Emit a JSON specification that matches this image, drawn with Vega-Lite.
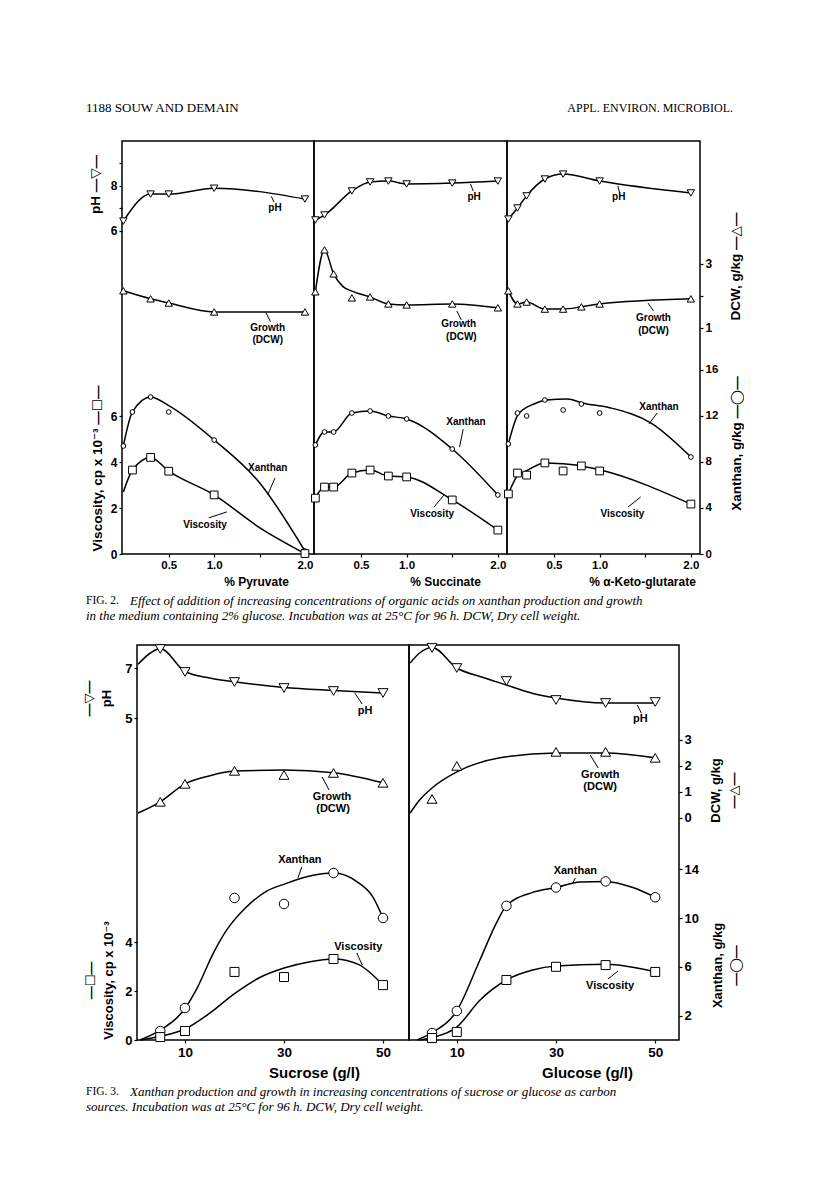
{
  "$schema": "https://vega.github.io/schema/vega-lite/v6.json",
  "background": "white",
  "padding": {"left": 0, "top": 98, "right": 0, "bottom": 0},
  "spacing": 0,
  "config": {
    "view": {"stroke": null},
    "concat": {"spacing": 0},
    "axis": {"grid": false, "domain": false, "tickColor": "black", "tickSize": 3, "tickWidth": 1.2, "labelColor": "black", "labelFont": "Liberation Sans", "labelFontWeight": "bold", "labelFontSize": 12, "labelPadding": 2, "labelFlush": false, "labelBound": false, "titleColor": "black", "titleFont": "Liberation Sans, DejaVu Sans", "titleFontWeight": "bold", "titleFontSize": 12, "titleAlign": "center", "titleBaseline": "middle"},
    "line": {"color": "black", "strokeWidth": 1.5, "interpolate": "monotone"},
    "point": {"filled": true, "fill": "white", "stroke": "black", "strokeWidth": 1, "opacity": 1},
    "text": {"color": "black", "font": "Liberation Sans", "fontWeight": "bold"},
    "rule": {"color": "black", "strokeWidth": 1}
  },
  "datasets": {
    "hdr": [
      {"pos": 0, "t": "1188   SOUW AND DEMAIN"},
      {"pos": 1, "t": "APPL. ENVIRON. MICROBIOL."}
    ],
    "cap2": [
      {"pos": 0, "line": 1, "k": "fig", "t": "FIG. 2."},
      {"pos": 0, "line": 1, "k": "b1", "t": "Effect of addition of increasing concentrations of organic acids on xanthan production and growth"},
      {"pos": 0, "line": 2, "k": "b2", "t": "in the medium containing 2% glucose. Incubation was at 25°C for 96 h. DCW, Dry cell weight."}
    ],
    "cap3": [
      {"pos": 0, "line": 1, "k": "fig", "t": "FIG. 3."},
      {"pos": 0, "line": 1, "k": "b1", "t": "Xanthan production and growth in increasing concentrations of sucrose or glucose as carbon"},
      {"pos": 0, "line": 2, "k": "b2", "t": "sources. Incubation was at 25°C for 96 h. DCW, Dry cell weight."}
    ],
    "f2": [
      {"p":"Pyr","s":"pH","x":0,"v":6.44,"r":"b"},
      {"p":"Pyr","s":"pH","x":0.3,"v":7.64,"r":"b"},
      {"p":"Pyr","s":"pH","x":0.5,"v":7.64,"r":"b"},
      {"p":"Pyr","s":"pH","x":1.0,"v":7.9,"r":"b"},
      {"p":"Pyr","s":"pH","x":2.0,"v":7.42,"r":"b"},
      {"p":"Pyr","s":"DCW","x":0,"v":2.16,"r":"b"},
      {"p":"Pyr","s":"DCW","x":0.3,"v":1.91,"r":"b"},
      {"p":"Pyr","s":"DCW","x":0.5,"v":1.78,"r":"b"},
      {"p":"Pyr","s":"DCW","x":1.0,"v":1.5,"r":"b"},
      {"p":"Pyr","s":"DCW","x":2.0,"v":1.5,"r":"b"},
      {"p":"Pyr","s":"Xan","x":0,"v":9.39,"r":"b"},
      {"p":"Pyr","s":"Xan","x":0.1,"v":12.35,"r":"b"},
      {"p":"Pyr","s":"Xan","x":0.3,"v":13.65,"r":"b"},
      {"p":"Pyr","s":"Xan","x":0.5,"v":12.35,"r":"p"},
      {"p":"Pyr","s":"Xan","x":0.5,"v":12.9,"r":"l"},
      {"p":"Pyr","s":"Xan","x":1.0,"v":9.91,"r":"b"},
      {"p":"Pyr","s":"Xan","x":1.5,"v":6.2,"r":"l"},
      {"p":"Pyr","s":"Xan","x":2.0,"v":0.26,"r":"b"},
      {"p":"Pyr","s":"Visc","x":0,"v":2.7,"r":"l"},
      {"p":"Pyr","s":"Visc","x":0.1,"v":3.65,"r":"b"},
      {"p":"Pyr","s":"Visc","x":0.3,"v":4.2,"r":"b"},
      {"p":"Pyr","s":"Visc","x":0.5,"v":3.6,"r":"b"},
      {"p":"Pyr","s":"Visc","x":1.0,"v":2.57,"r":"b"},
      {"p":"Pyr","s":"Visc","x":1.5,"v":1.15,"r":"l"},
      {"p":"Pyr","s":"Visc","x":2.0,"v":0.02,"r":"b"},
      {"p":"Pyr","s":"ann","x":1.67,"v":15.04,"t":"pH"},
      {"p":"Pyr","s":"ann","x":1.59,"v":9.83,"t":"Growth"},
      {"p":"Pyr","s":"ann","x":1.59,"v":9.3,"t":"(DCW)"},
      {"p":"Pyr","s":"ann","x":1.59,"v":3.74,"t":"Xanthan"},
      {"p":"Pyr","s":"ann","x":0.9,"v":1.26,"t":"Viscosity"},
      {"p":"Pyr","s":"lead","x":1.63,"v":15.55,"x2":1.66,"v2":15.3},
      {"p":"Pyr","s":"lead","x":1.57,"v":10.5,"x2":1.62,"v2":10.1},
      {"p":"Pyr","s":"lead","x":1.67,"v":3.3,"x2":1.59,"v2":2.57},
      {"p":"Pyr","s":"lead","x":0.94,"v":1.57,"x2":1.14,"v2":1.83},
      {"p":"Suc","s":"pH","x":0,"v":6.49,"r":"b"},
      {"p":"Suc","s":"pH","x":0.1,"v":6.71,"r":"b"},
      {"p":"Suc","s":"pH","x":0.4,"v":7.78,"r":"b"},
      {"p":"Suc","s":"pH","x":0.6,"v":8.18,"r":"b"},
      {"p":"Suc","s":"pH","x":0.8,"v":8.22,"r":"b"},
      {"p":"Suc","s":"pH","x":1.0,"v":8.09,"r":"b"},
      {"p":"Suc","s":"pH","x":1.5,"v":8.13,"r":"b"},
      {"p":"Suc","s":"pH","x":2.0,"v":8.22,"r":"b"},
      {"p":"Suc","s":"DCW","x":0,"v":2.13,"r":"b"},
      {"p":"Suc","s":"DCW","x":0.1,"v":3.44,"r":"b"},
      {"p":"Suc","s":"DCW","x":0.2,"v":2.69,"r":"b"},
      {"p":"Suc","s":"DCW","x":0.3,"v":2.3,"r":"l"},
      {"p":"Suc","s":"DCW","x":0.4,"v":1.94,"r":"p"},
      {"p":"Suc","s":"DCW","x":0.4,"v":2.15,"r":"l"},
      {"p":"Suc","s":"DCW","x":0.6,"v":1.97,"r":"b"},
      {"p":"Suc","s":"DCW","x":0.8,"v":1.75,"r":"b"},
      {"p":"Suc","s":"DCW","x":1.0,"v":1.72,"r":"b"},
      {"p":"Suc","s":"DCW","x":1.5,"v":1.75,"r":"b"},
      {"p":"Suc","s":"DCW","x":2.0,"v":1.63,"r":"b"},
      {"p":"Suc","s":"Xan","x":0,"v":9.48,"r":"b"},
      {"p":"Suc","s":"Xan","x":0.1,"v":10.61,"r":"b"},
      {"p":"Suc","s":"Xan","x":0.2,"v":10.61,"r":"b"},
      {"p":"Suc","s":"Xan","x":0.4,"v":12.26,"r":"b"},
      {"p":"Suc","s":"Xan","x":0.6,"v":12.43,"r":"b"},
      {"p":"Suc","s":"Xan","x":0.8,"v":12.0,"r":"b"},
      {"p":"Suc","s":"Xan","x":1.0,"v":11.74,"r":"b"},
      {"p":"Suc","s":"Xan","x":1.5,"v":9.13,"r":"b"},
      {"p":"Suc","s":"Xan","x":2.0,"v":5.13,"r":"b"},
      {"p":"Suc","s":"Visc","x":0,"v":2.43,"r":"b"},
      {"p":"Suc","s":"Visc","x":0.1,"v":2.91,"r":"b"},
      {"p":"Suc","s":"Visc","x":0.2,"v":2.91,"r":"b"},
      {"p":"Suc","s":"Visc","x":0.4,"v":3.52,"r":"b"},
      {"p":"Suc","s":"Visc","x":0.6,"v":3.65,"r":"b"},
      {"p":"Suc","s":"Visc","x":0.8,"v":3.39,"r":"b"},
      {"p":"Suc","s":"Visc","x":1.0,"v":3.35,"r":"b"},
      {"p":"Suc","s":"Visc","x":1.5,"v":2.35,"r":"b"},
      {"p":"Suc","s":"Visc","x":2.0,"v":1.04,"r":"b"},
      {"p":"Suc","s":"ann","x":1.74,"v":15.52,"t":"pH"},
      {"p":"Suc","s":"ann","x":1.57,"v":10.0,"t":"Growth"},
      {"p":"Suc","s":"ann","x":1.6,"v":9.43,"t":"(DCW)"},
      {"p":"Suc","s":"ann","x":1.65,"v":5.74,"t":"Xanthan"},
      {"p":"Suc","s":"ann","x":1.28,"v":1.74,"t":"Viscosity"},
      {"p":"Suc","s":"lead","x":1.7,"v":16.09,"x2":1.73,"v2":15.78},
      {"p":"Suc","s":"lead","x":1.55,"v":10.57,"x2":1.6,"v2":10.17},
      {"p":"Suc","s":"lead","x":1.62,"v":5.43,"x2":1.58,"v2":4.65},
      {"p":"Suc","s":"lead","x":1.3,"v":2.04,"x2":1.41,"v2":2.57},
      {"p":"Keto","s":"pH","x":0,"v":6.53,"r":"b"},
      {"p":"Keto","s":"pH","x":0.1,"v":7.02,"r":"b"},
      {"p":"Keto","s":"pH","x":0.2,"v":7.56,"r":"b"},
      {"p":"Keto","s":"pH","x":0.4,"v":8.31,"r":"b"},
      {"p":"Keto","s":"pH","x":0.6,"v":8.53,"r":"b"},
      {"p":"Keto","s":"pH","x":1.0,"v":8.22,"r":"b"},
      {"p":"Keto","s":"pH","x":2.0,"v":7.69,"r":"b"},
      {"p":"Keto","s":"DCW","x":0,"v":2.16,"r":"b"},
      {"p":"Keto","s":"DCW","x":0.1,"v":1.75,"r":"b"},
      {"p":"Keto","s":"DCW","x":0.2,"v":1.81,"r":"b"},
      {"p":"Keto","s":"DCW","x":0.4,"v":1.59,"r":"b"},
      {"p":"Keto","s":"DCW","x":0.6,"v":1.59,"r":"b"},
      {"p":"Keto","s":"DCW","x":0.8,"v":1.66,"r":"b"},
      {"p":"Keto","s":"DCW","x":1.0,"v":1.75,"r":"b"},
      {"p":"Keto","s":"DCW","x":2.0,"v":1.91,"r":"b"},
      {"p":"Keto","s":"Xan","x":0,"v":9.57,"r":"p"},
      {"p":"Keto","s":"Xan","x":0.1,"v":12.26,"r":"p"},
      {"p":"Keto","s":"Xan","x":0.2,"v":12.0,"r":"p"},
      {"p":"Keto","s":"Xan","x":0.4,"v":13.39,"r":"p"},
      {"p":"Keto","s":"Xan","x":0.6,"v":12.52,"r":"p"},
      {"p":"Keto","s":"Xan","x":0.8,"v":13.04,"r":"p"},
      {"p":"Keto","s":"Xan","x":1.0,"v":12.26,"r":"p"},
      {"p":"Keto","s":"Xan","x":2.0,"v":8.43,"r":"p"},
      {"p":"Keto","s":"Xan","x":0,"v":9.57,"r":"l"},
      {"p":"Keto","s":"Xan","x":0.11,"v":12.17,"r":"l"},
      {"p":"Keto","s":"Xan","x":0.28,"v":13.04,"r":"l"},
      {"p":"Keto","s":"Xan","x":0.42,"v":13.39,"r":"l"},
      {"p":"Keto","s":"Xan","x":0.65,"v":13.48,"r":"l"},
      {"p":"Keto","s":"Xan","x":0.81,"v":13.13,"r":"l"},
      {"p":"Keto","s":"Xan","x":1.12,"v":12.7,"r":"l"},
      {"p":"Keto","s":"Xan","x":1.56,"v":11.4,"r":"l"},
      {"p":"Keto","s":"Xan","x":2.0,"v":8.43,"r":"l"},
      {"p":"Keto","s":"Visc","x":0,"v":2.61,"r":"p"},
      {"p":"Keto","s":"Visc","x":0.1,"v":3.52,"r":"p"},
      {"p":"Keto","s":"Visc","x":0.2,"v":3.43,"r":"p"},
      {"p":"Keto","s":"Visc","x":0.4,"v":3.96,"r":"p"},
      {"p":"Keto","s":"Visc","x":0.6,"v":3.61,"r":"p"},
      {"p":"Keto","s":"Visc","x":0.8,"v":3.83,"r":"p"},
      {"p":"Keto","s":"Visc","x":1.0,"v":3.61,"r":"p"},
      {"p":"Keto","s":"Visc","x":2.0,"v":2.17,"r":"p"},
      {"p":"Keto","s":"Visc","x":0,"v":2.61,"r":"l"},
      {"p":"Keto","s":"Visc","x":0.1,"v":3.4,"r":"l"},
      {"p":"Keto","s":"Visc","x":0.2,"v":3.62,"r":"l"},
      {"p":"Keto","s":"Visc","x":0.4,"v":3.96,"r":"l"},
      {"p":"Keto","s":"Visc","x":0.6,"v":3.92,"r":"l"},
      {"p":"Keto","s":"Visc","x":0.8,"v":3.83,"r":"l"},
      {"p":"Keto","s":"Visc","x":1.0,"v":3.66,"r":"l"},
      {"p":"Keto","s":"Visc","x":2.0,"v":2.17,"r":"l"},
      {"p":"Keto","s":"ann","x":1.21,"v":15.52,"t":"pH"},
      {"p":"Keto","s":"ann","x":1.59,"v":10.26,"t":"Growth"},
      {"p":"Keto","s":"ann","x":1.59,"v":9.7,"t":"(DCW)"},
      {"p":"Keto","s":"ann","x":1.65,"v":6.39,"t":"Xanthan"},
      {"p":"Keto","s":"ann","x":1.25,"v":1.74,"t":"Viscosity"},
      {"p":"Keto","s":"lead","x":1.2,"v":16.0,"x2":1.22,"v2":15.7},
      {"p":"Keto","s":"lead","x":1.53,"v":10.91,"x2":1.59,"v2":10.57},
      {"p":"Keto","s":"lead","x":1.63,"v":6.13,"x2":1.54,"v2":5.65},
      {"p":"Keto","s":"lead","x":1.31,"v":2.04,"x2":1.45,"v2":2.48}
    ],
    "f3": [
      {"p":"Suc","s":"pH","x":5,"v":7.76,"r":"p"},
      {"p":"Suc","s":"pH","x":10,"v":6.84,"r":"p"},
      {"p":"Suc","s":"pH","x":20,"v":6.44,"r":"p"},
      {"p":"Suc","s":"pH","x":30,"v":6.2,"r":"p"},
      {"p":"Suc","s":"pH","x":40,"v":6.08,"r":"p"},
      {"p":"Suc","s":"pH","x":50,"v":6.0,"r":"p"},
      {"p":"Suc","s":"pH","x":0.5,"v":7.15,"r":"l"},
      {"p":"Suc","s":"pH","x":3,"v":7.6,"r":"l"},
      {"p":"Suc","s":"pH","x":5,"v":7.78,"r":"l"},
      {"p":"Suc","s":"pH","x":10,"v":6.86,"r":"l"},
      {"p":"Suc","s":"pH","x":15,"v":6.6,"r":"l"},
      {"p":"Suc","s":"pH","x":20,"v":6.45,"r":"l"},
      {"p":"Suc","s":"pH","x":30,"v":6.22,"r":"l"},
      {"p":"Suc","s":"pH","x":40,"v":6.1,"r":"l"},
      {"p":"Suc","s":"pH","x":50,"v":6.0,"r":"l"},
      {"p":"Suc","s":"DCW","x":5,"v":0.62,"r":"p"},
      {"p":"Suc","s":"DCW","x":10,"v":1.31,"r":"p"},
      {"p":"Suc","s":"DCW","x":20,"v":1.81,"r":"p"},
      {"p":"Suc","s":"DCW","x":30,"v":1.65,"r":"p"},
      {"p":"Suc","s":"DCW","x":40,"v":1.73,"r":"p"},
      {"p":"Suc","s":"DCW","x":50,"v":1.35,"r":"p"},
      {"p":"Suc","s":"DCW","x":0.5,"v":0.19,"r":"l"},
      {"p":"Suc","s":"DCW","x":5,"v":0.62,"r":"l"},
      {"p":"Suc","s":"DCW","x":10,"v":1.31,"r":"l"},
      {"p":"Suc","s":"DCW","x":15,"v":1.62,"r":"l"},
      {"p":"Suc","s":"DCW","x":20,"v":1.8,"r":"l"},
      {"p":"Suc","s":"DCW","x":30,"v":1.84,"r":"l"},
      {"p":"Suc","s":"DCW","x":40,"v":1.74,"r":"l"},
      {"p":"Suc","s":"DCW","x":50,"v":1.35,"r":"l"},
      {"p":"Suc","s":"Xan","x":5,"v":0.74,"r":"p"},
      {"p":"Suc","s":"Xan","x":10,"v":2.62,"r":"p"},
      {"p":"Suc","s":"Xan","x":20,"v":11.64,"r":"p"},
      {"p":"Suc","s":"Xan","x":30,"v":11.15,"r":"p"},
      {"p":"Suc","s":"Xan","x":40,"v":13.69,"r":"p"},
      {"p":"Suc","s":"Xan","x":50,"v":10.0,"r":"p"},
      {"p":"Suc","s":"Xan","x":0.9,"v":0,"r":"l"},
      {"p":"Suc","s":"Xan","x":5,"v":0.8,"r":"l"},
      {"p":"Suc","s":"Xan","x":10,"v":2.6,"r":"l"},
      {"p":"Suc","s":"Xan","x":12.5,"v":4.3,"r":"l"},
      {"p":"Suc","s":"Xan","x":15.7,"v":7.1,"r":"l"},
      {"p":"Suc","s":"Xan","x":18.4,"v":9.0,"r":"l"},
      {"p":"Suc","s":"Xan","x":22.4,"v":10.9,"r":"l"},
      {"p":"Suc","s":"Xan","x":26.5,"v":12.2,"r":"l"},
      {"p":"Suc","s":"Xan","x":30.2,"v":12.8,"r":"l"},
      {"p":"Suc","s":"Xan","x":35.9,"v":13.5,"r":"l"},
      {"p":"Suc","s":"Xan","x":40,"v":13.69,"r":"l"},
      {"p":"Suc","s":"Xan","x":45,"v":12.9,"r":"l"},
      {"p":"Suc","s":"Xan","x":48,"v":11.7,"r":"l"},
      {"p":"Suc","s":"Xan","x":50,"v":10.0,"r":"l"},
      {"p":"Suc","s":"Visc","x":5,"v":0.12,"r":"p"},
      {"p":"Suc","s":"Visc","x":10,"v":0.37,"r":"p"},
      {"p":"Suc","s":"Visc","x":20,"v":2.79,"r":"p"},
      {"p":"Suc","s":"Visc","x":30,"v":2.58,"r":"p"},
      {"p":"Suc","s":"Visc","x":40,"v":3.32,"r":"p"},
      {"p":"Suc","s":"Visc","x":50,"v":2.25,"r":"p"},
      {"p":"Suc","s":"Visc","x":0.9,"v":0,"r":"l"},
      {"p":"Suc","s":"Visc","x":5,"v":0.15,"r":"l"},
      {"p":"Suc","s":"Visc","x":10,"v":0.45,"r":"l"},
      {"p":"Suc","s":"Visc","x":15,"v":1.1,"r":"l"},
      {"p":"Suc","s":"Visc","x":20,"v":1.9,"r":"l"},
      {"p":"Suc","s":"Visc","x":25,"v":2.55,"r":"l"},
      {"p":"Suc","s":"Visc","x":30,"v":2.95,"r":"l"},
      {"p":"Suc","s":"Visc","x":35,"v":3.2,"r":"l"},
      {"p":"Suc","s":"Visc","x":40,"v":3.32,"r":"l"},
      {"p":"Suc","s":"Visc","x":45,"v":3.1,"r":"l"},
      {"p":"Suc","s":"Visc","x":50,"v":2.25,"r":"l"},
      {"p":"Suc","s":"ann","x":46.4,"v":13.48,"t":"pH"},
      {"p":"Suc","s":"ann","x":39.7,"v":9.96,"t":"Growth"},
      {"p":"Suc","s":"ann","x":39.9,"v":9.47,"t":"(DCW)"},
      {"p":"Suc","s":"ann","x":33.2,"v":7.38,"t":"Xanthan"},
      {"p":"Suc","s":"ann","x":45,"v":3.81,"t":"Viscosity"},
      {"p":"Suc","s":"lead","x":44.3,"v":14.22,"x2":45.8,"v2":13.77},
      {"p":"Suc","s":"lead","x":37.7,"v":10.78,"x2":39.1,"v2":10.25},
      {"p":"Suc","s":"lead","x":33.6,"v":7.09,"x2":32.8,"v2":6.64},
      {"p":"Suc","s":"lead","x":44.7,"v":3.57,"x2":45.8,"v2":3.07},
      {"p":"Glu","s":"pH","x":5,"v":7.8,"r":"p"},
      {"p":"Glu","s":"pH","x":10,"v":7.0,"r":"p"},
      {"p":"Glu","s":"pH","x":20,"v":6.48,"r":"p"},
      {"p":"Glu","s":"pH","x":30,"v":5.72,"r":"p"},
      {"p":"Glu","s":"pH","x":40,"v":5.6,"r":"p"},
      {"p":"Glu","s":"pH","x":50,"v":5.64,"r":"p"},
      {"p":"Glu","s":"pH","x":0.6,"v":7.2,"r":"l"},
      {"p":"Glu","s":"pH","x":2.5,"v":7.6,"r":"l"},
      {"p":"Glu","s":"pH","x":5,"v":7.82,"r":"l"},
      {"p":"Glu","s":"pH","x":10,"v":7.0,"r":"l"},
      {"p":"Glu","s":"pH","x":15,"v":6.64,"r":"l"},
      {"p":"Glu","s":"pH","x":20,"v":6.32,"r":"l"},
      {"p":"Glu","s":"pH","x":25,"v":6.0,"r":"l"},
      {"p":"Glu","s":"pH","x":30,"v":5.8,"r":"l"},
      {"p":"Glu","s":"pH","x":40,"v":5.6,"r":"l"},
      {"p":"Glu","s":"pH","x":50,"v":5.6,"r":"l"},
      {"p":"Glu","s":"DCW","x":5,"v":0.73,"r":"p"},
      {"p":"Glu","s":"DCW","x":10,"v":2.0,"r":"p"},
      {"p":"Glu","s":"DCW","x":30,"v":2.54,"r":"p"},
      {"p":"Glu","s":"DCW","x":40,"v":2.54,"r":"p"},
      {"p":"Glu","s":"DCW","x":50,"v":2.31,"r":"p"},
      {"p":"Glu","s":"DCW","x":0.6,"v":0.19,"r":"l"},
      {"p":"Glu","s":"DCW","x":2.5,"v":0.69,"r":"l"},
      {"p":"Glu","s":"DCW","x":5,"v":1.15,"r":"l"},
      {"p":"Glu","s":"DCW","x":10,"v":1.77,"r":"l"},
      {"p":"Glu","s":"DCW","x":18.7,"v":2.31,"r":"l"},
      {"p":"Glu","s":"DCW","x":30,"v":2.5,"r":"l"},
      {"p":"Glu","s":"DCW","x":40,"v":2.5,"r":"l"},
      {"p":"Glu","s":"DCW","x":50,"v":2.31,"r":"l"},
      {"p":"Glu","s":"Xan","x":5,"v":0.57,"r":"p"},
      {"p":"Glu","s":"Xan","x":10,"v":2.38,"r":"p"},
      {"p":"Glu","s":"Xan","x":20,"v":11.0,"r":"p"},
      {"p":"Glu","s":"Xan","x":30,"v":12.5,"r":"p"},
      {"p":"Glu","s":"Xan","x":40,"v":13.0,"r":"p"},
      {"p":"Glu","s":"Xan","x":50,"v":11.7,"r":"p"},
      {"p":"Glu","s":"Xan","x":2,"v":0,"r":"l"},
      {"p":"Glu","s":"Xan","x":5,"v":0.6,"r":"l"},
      {"p":"Glu","s":"Xan","x":10,"v":2.4,"r":"l"},
      {"p":"Glu","s":"Xan","x":14.7,"v":6.6,"r":"l"},
      {"p":"Glu","s":"Xan","x":18,"v":9.6,"r":"l"},
      {"p":"Glu","s":"Xan","x":20,"v":11.0,"r":"l"},
      {"p":"Glu","s":"Xan","x":25.3,"v":12.1,"r":"l"},
      {"p":"Glu","s":"Xan","x":30,"v":12.5,"r":"l"},
      {"p":"Glu","s":"Xan","x":34.8,"v":12.95,"r":"l"},
      {"p":"Glu","s":"Xan","x":40,"v":13.0,"r":"l"},
      {"p":"Glu","s":"Xan","x":45.5,"v":12.5,"r":"l"},
      {"p":"Glu","s":"Xan","x":50,"v":11.7,"r":"l"},
      {"p":"Glu","s":"Visc","x":5,"v":0.08,"r":"p"},
      {"p":"Glu","s":"Visc","x":10,"v":0.33,"r":"p"},
      {"p":"Glu","s":"Visc","x":20,"v":2.46,"r":"p"},
      {"p":"Glu","s":"Visc","x":30,"v":3.0,"r":"p"},
      {"p":"Glu","s":"Visc","x":40,"v":3.07,"r":"p"},
      {"p":"Glu","s":"Visc","x":50,"v":2.79,"r":"p"},
      {"p":"Glu","s":"Visc","x":2.6,"v":0,"r":"l"},
      {"p":"Glu","s":"Visc","x":5,"v":0.1,"r":"l"},
      {"p":"Glu","s":"Visc","x":10,"v":0.53,"r":"l"},
      {"p":"Glu","s":"Visc","x":14.7,"v":1.64,"r":"l"},
      {"p":"Glu","s":"Visc","x":20,"v":2.46,"r":"l"},
      {"p":"Glu","s":"Visc","x":25.3,"v":2.87,"r":"l"},
      {"p":"Glu","s":"Visc","x":30,"v":3.03,"r":"l"},
      {"p":"Glu","s":"Visc","x":40,"v":3.1,"r":"l"},
      {"p":"Glu","s":"Visc","x":50,"v":2.79,"r":"l"},
      {"p":"Glu","s":"ann","x":47,"v":13.16,"t":"pH"},
      {"p":"Glu","s":"ann","x":38.9,"v":10.86,"t":"Growth"},
      {"p":"Glu","s":"ann","x":38.9,"v":10.37,"t":"(DCW)"},
      {"p":"Glu","s":"ann","x":33.9,"v":6.93,"t":"Xanthan"},
      {"p":"Glu","s":"ann","x":40.9,"v":2.21,"t":"Viscosity"},
      {"p":"Glu","s":"lead","x":46.4,"v":13.73,"x2":47.2,"v2":13.4},
      {"p":"Glu","s":"lead","x":36.9,"v":11.68,"x2":38.5,"v2":11.15},
      {"p":"Glu","s":"lead","x":33.9,"v":6.64,"x2":33.3,"v2":6.39},
      {"p":"Glu","s":"lead","x":40.5,"v":2.5,"x2":42.5,"v2":2.83}
    ]
  },
  "vconcat": [
    {"hconcat": [
      {"width": 86, "height": 20, "data": {"values": []}, "mark": "point"},
      {"width": 647, "height": 20, "data": {"name": "hdr"},
       "encoding": {"x": {"field": "pos", "type": "quantitative", "scale": {"domain": [0, 1]}, "axis": null}, "text": {"field": "t"}},
       "layer": [
         {"transform": [{"filter": "datum.pos === 0"}], "mark": {"type": "text", "align": "left", "font": "Liberation Serif", "fontSize": 13, "fontWeight": "normal"}},
         {"transform": [{"filter": "datum.pos === 1"}], "mark": {"type": "text", "align": "right", "font": "Liberation Serif", "fontSize": 12, "fontWeight": "normal"}}
       ]}
    ], "spacing": 0, "bounds": "flush"},
    {"width": 1, "height": 22, "data": {"values": []}, "mark": "point"},
    {"hconcat": [
      {"width": 122, "height": 413, "data": {"values": []}, "mark": "point"},
      {"width": 192, "height": 413,
       "view": {"stroke": "black", "strokeWidth": 1.5},
       "data": {"name": "f2"},
       "transform": [{"filter": "datum.p === 'Pyr'"}],
       "encoding": {"x": {"field": "x", "type": "quantitative", "scale": {"domain": [-0.015, 2.1], "nice": false, "zero": false},
         "axis": {"values": [0.5, 1, 1.5, 2], "labelExpr": "datum.value === 1.5 ? '' : format(datum.value, '.1f')", "labelFontSize": 11.5, "title": "% Pyruvate", "titleX": 134, "titleY": 27}}},
       "layer": [
         {"transform": [{"filter": "datum.s === 'pH'"}],
          "encoding": {"y": {"field": "v", "type": "quantitative", "scale": {"domain": [-8.356, 10], "nice": false, "zero": false},
            "axis": {"orient": "left", "values": [6, 7, 8, 9], "labelExpr": "datum.value === 6 || datum.value === 8 ? datum.label : ''", "title": "pH —▽—", "titleFontSize": 13.5, "titleAngle": 270, "titleX": -27, "titleY": 43}}},
          "layer": [
            {"transform": [{"filter": "datum.r !== 'p'"}], "mark": "line", "encoding": {}},
            {"transform": [{"filter": "datum.r !== 'l'"}], "mark": {"type": "point", "shape": "triangle-down", "size": 55}}
          ]},
         {"transform": [{"filter": "datum.s === 'DCW'"}],
          "encoding": {"y": {"field": "v", "type": "quantitative", "scale": {"domain": [-6.06, 6.84], "nice": false, "zero": false}, "axis": null}},
          "layer": [
            {"transform": [{"filter": "datum.r !== 'p'"}], "mark": "line", "encoding": {}},
            {"transform": [{"filter": "datum.r !== 'l'"}], "mark": {"type": "point", "shape": "triangle-up", "size": 55}}
          ]},
         {"transform": [{"filter": "datum.s === 'Xan'"}],
          "encoding": {"y": {"field": "v", "type": "quantitative", "scale": {"domain": [0, 35.91], "nice": false, "zero": false}, "axis": null}},
          "layer": [
            {"transform": [{"filter": "datum.r !== 'p'"}], "mark": "line", "encoding": {}},
            {"transform": [{"filter": "datum.r !== 'l'"}], "mark": {"type": "point", "shape": "circle", "size": 22}}
          ]},
         {"transform": [{"filter": "datum.s === 'Visc' || datum.s === 'ann' || datum.s === 'lead'"}],
          "encoding": {"y": {"field": "v", "type": "quantitative", "scale": {"domain": [0, 17.957], "nice": false, "zero": false},
            "axis": {"orient": "left", "values": [0, 2, 4, 6], "title": "Viscosity, cp x 10⁻³ —☐—", "titleFontSize": 13.5, "titleAngle": 270, "titleX": -25, "titleY": 327}}},
          "layer": [
            {"transform": [{"filter": "datum.s === 'Visc' && datum.r !== 'p'"}], "mark": "line", "encoding": {}},
            {"transform": [{"filter": "datum.s === 'Visc' && datum.r !== 'l'"}], "mark": {"type": "point", "shape": "square", "size": 60}},
            {"transform": [{"filter": "datum.s === 'ann'"}], "mark": {"type": "text", "fontSize": 10}, "encoding": {"text": {"field": "t"}}},
            {"transform": [{"filter": "datum.s === 'lead'"}], "mark": "rule", "encoding": {"x2": {"field": "x2"}, "y2": {"field": "v2"}}}
          ]}
       ],
       "resolve": {"scale": {"y": "independent"}}},
      {"width": 193, "height": 413,
       "view": {"stroke": "black", "strokeWidth": 1.5},
       "data": {"name": "f2"},
       "transform": [{"filter": "datum.p === 'Suc'"}],
       "encoding": {"x": {"field": "x", "type": "quantitative", "scale": {"domain": [-0.015, 2.1], "nice": false, "zero": false},
         "axis": {"values": [0.5, 1, 1.5, 2], "labelExpr": "datum.value === 1.5 ? '' : format(datum.value, '.1f')", "labelFontSize": 11.5, "title": "% Succinate", "titleX": 131, "titleY": 27}}},
       "layer": [
         {"transform": [{"filter": "datum.s === 'pH'"}],
          "encoding": {"y": {"field": "v", "type": "quantitative", "scale": {"domain": [-8.356, 10], "nice": false, "zero": false}, "axis": null}},
          "layer": [
            {"transform": [{"filter": "datum.r !== 'p'"}], "mark": "line", "encoding": {}},
            {"transform": [{"filter": "datum.r !== 'l'"}], "mark": {"type": "point", "shape": "triangle-down", "size": 55}}
          ]},
         {"transform": [{"filter": "datum.s === 'DCW'"}],
          "encoding": {"y": {"field": "v", "type": "quantitative", "scale": {"domain": [-6.06, 6.84], "nice": false, "zero": false}, "axis": null}},
          "layer": [
            {"transform": [{"filter": "datum.r !== 'p'"}], "mark": "line", "encoding": {}},
            {"transform": [{"filter": "datum.r !== 'l'"}], "mark": {"type": "point", "shape": "triangle-up", "size": 55}}
          ]},
         {"transform": [{"filter": "datum.s === 'Xan'"}],
          "encoding": {"y": {"field": "v", "type": "quantitative", "scale": {"domain": [0, 35.91], "nice": false, "zero": false}, "axis": null}},
          "layer": [
            {"transform": [{"filter": "datum.r !== 'p'"}], "mark": "line", "encoding": {}},
            {"transform": [{"filter": "datum.r !== 'l'"}], "mark": {"type": "point", "shape": "circle", "size": 22}}
          ]},
         {"transform": [{"filter": "datum.s === 'Visc' || datum.s === 'ann' || datum.s === 'lead'"}],
          "encoding": {"y": {"field": "v", "type": "quantitative", "scale": {"domain": [0, 17.957], "nice": false, "zero": false}, "axis": null}},
          "layer": [
            {"transform": [{"filter": "datum.s === 'Visc' && datum.r !== 'p'"}], "mark": "line", "encoding": {}},
            {"transform": [{"filter": "datum.s === 'Visc' && datum.r !== 'l'"}], "mark": {"type": "point", "shape": "square", "size": 60}},
            {"transform": [{"filter": "datum.s === 'ann'"}], "mark": {"type": "text", "fontSize": 10}, "encoding": {"text": {"field": "t"}}},
            {"transform": [{"filter": "datum.s === 'lead'"}], "mark": "rule", "encoding": {"x2": {"field": "x2"}, "y2": {"field": "v2"}}}
          ]}
       ],
       "resolve": {"scale": {"y": "independent"}}},
      {"width": 193, "height": 413,
       "view": {"stroke": "black", "strokeWidth": 1.5},
       "data": {"name": "f2"},
       "transform": [{"filter": "datum.p === 'Keto'"}],
       "encoding": {"x": {"field": "x", "type": "quantitative", "scale": {"domain": [-0.015, 2.1], "nice": false, "zero": false},
         "axis": {"values": [0.5, 1, 1.5, 2], "labelExpr": "datum.value === 1.5 ? '' : format(datum.value, '.1f')", "labelFontSize": 11.5, "title": "% α-Keto-glutarate", "titleX": 135, "titleY": 27}}},
       "layer": [
         {"transform": [{"filter": "datum.s === 'pH'"}],
          "encoding": {"y": {"field": "v", "type": "quantitative", "scale": {"domain": [-8.356, 10], "nice": false, "zero": false}, "axis": null}},
          "layer": [
            {"transform": [{"filter": "datum.r !== 'p'"}], "mark": "line", "encoding": {}},
            {"transform": [{"filter": "datum.r !== 'l'"}], "mark": {"type": "point", "shape": "triangle-down", "size": 55}}
          ]},
         {"transform": [{"filter": "datum.s === 'DCW'"}],
          "encoding": {"y": {"field": "v", "type": "quantitative", "scale": {"domain": [-6.06, 6.84], "nice": false, "zero": false},
            "axis": {"orient": "right", "values": [1, 2, 3], "labelExpr": "datum.value === 2 ? '' : datum.label", "title": "DCW, g/kg —△—", "titleFontSize": 13.5, "titleAngle": 270, "titleX": 35, "titleY": 125}}},
          "layer": [
            {"transform": [{"filter": "datum.r !== 'p'"}], "mark": "line", "encoding": {}},
            {"transform": [{"filter": "datum.r !== 'l'"}], "mark": {"type": "point", "shape": "triangle-up", "size": 55}}
          ]},
         {"transform": [{"filter": "datum.s === 'Xan'"}],
          "encoding": {"y": {"field": "v", "type": "quantitative", "scale": {"domain": [0, 35.91], "nice": false, "zero": false},
            "axis": {"orient": "right", "values": [0, 4, 8, 12, 16], "labelFontSize": 11.5, "title": "Xanthan, g/kg —◯—", "titleFontSize": 13.5, "titleAngle": 270, "titleX": 36, "titleY": 302}}},
          "layer": [
            {"transform": [{"filter": "datum.r !== 'p'"}], "mark": "line", "encoding": {}},
            {"transform": [{"filter": "datum.r !== 'l'"}], "mark": {"type": "point", "shape": "circle", "size": 22}}
          ]},
         {"transform": [{"filter": "datum.s === 'Visc' || datum.s === 'ann' || datum.s === 'lead'"}],
          "encoding": {"y": {"field": "v", "type": "quantitative", "scale": {"domain": [0, 17.957], "nice": false, "zero": false}, "axis": null}},
          "layer": [
            {"transform": [{"filter": "datum.s === 'Visc' && datum.r !== 'p'"}], "mark": "line", "encoding": {}},
            {"transform": [{"filter": "datum.s === 'Visc' && datum.r !== 'l'"}], "mark": {"type": "point", "shape": "square", "size": 60}},
            {"transform": [{"filter": "datum.s === 'ann'"}], "mark": {"type": "text", "fontSize": 10}, "encoding": {"text": {"field": "t"}}},
            {"transform": [{"filter": "datum.s === 'lead'"}], "mark": "rule", "encoding": {"x2": {"field": "x2"}, "y2": {"field": "v2"}}}
          ]}
       ],
       "resolve": {"scale": {"y": "independent"}}}
    ], "spacing": 0, "bounds": "flush"},
    {"width": 1, "height": 5, "data": {"values": []}, "mark": "point"},
    {"hconcat": [
      {"width": 86, "height": 30, "data": {"values": []}, "mark": "point"},
      {"width": 647, "height": 30, "data": {"name": "cap2"},
       "encoding": {"x": {"field": "pos", "type": "quantitative", "scale": {"domain": [0, 1]}, "axis": null},
                    "y": {"field": "line", "type": "ordinal", "scale": {"type": "point", "padding": 0.5}, "axis": null},
                    "text": {"field": "t"}},
       "layer": [
         {"transform": [{"filter": "datum.k === 'fig'"}], "mark": {"type": "text", "align": "left", "font": "Liberation Serif", "fontSize": 11.5, "fontWeight": "normal"}},
         {"transform": [{"filter": "datum.k === 'b1'"}], "mark": {"type": "text", "align": "left", "dx": 44, "font": "Liberation Serif", "fontStyle": "italic", "fontSize": 13, "fontWeight": "normal"}},
         {"transform": [{"filter": "datum.k === 'b2'"}], "mark": {"type": "text", "align": "left", "font": "Liberation Serif", "fontStyle": "italic", "fontSize": 13, "fontWeight": "normal"}}
       ]}
    ], "spacing": 0, "bounds": "flush"},
    {"width": 1, "height": 17, "data": {"values": []}, "mark": "point"},
    {"hconcat": [
      {"width": 137, "height": 395, "data": {"values": []}, "mark": "point"},
      {"width": 272, "height": 395,
       "view": {"stroke": "black", "strokeWidth": 1.5},
       "data": {"name": "f3"},
       "transform": [{"filter": "datum.p === 'Suc'"}],
       "encoding": {"x": {"field": "x", "type": "quantitative", "scale": {"domain": [0.3, 55.25], "nice": false, "zero": false},
         "axis": {"values": [10, 30, 50], "labelFontSize": 13.5, "title": "Sucrose  (g/l)", "titleFontSize": 15, "titleX": 177, "titleY": 32}}},
       "layer": [
         {"transform": [{"filter": "datum.s === 'pH'"}],
          "encoding": {"y": {"field": "v", "type": "quantitative", "scale": {"domain": [-7.88, 7.92], "nice": false, "zero": false},
            "axis": {"orient": "left", "values": [5, 7], "labelFontSize": 13, "title": ["—▽—", "pH"], "titleFontSize": 13, "titleLineHeight": 18, "titleAngle": 270, "titleX": -49, "titleY": 53}}},
          "layer": [
            {"transform": [{"filter": "datum.r !== 'p'"}], "mark": "line", "encoding": {}},
            {"transform": [{"filter": "datum.r !== 'l'"}], "mark": {"type": "point", "shape": "triangle-down", "size": 100}}
          ]},
         {"transform": [{"filter": "datum.s === 'DCW'"}],
          "encoding": {"y": {"field": "v", "type": "quantitative", "scale": {"domain": [-8.54, 6.65], "nice": false, "zero": false}, "axis": null}},
          "layer": [
            {"transform": [{"filter": "datum.r !== 'p'"}], "mark": "line", "encoding": {}},
            {"transform": [{"filter": "datum.r !== 'l'"}], "mark": {"type": "point", "shape": "triangle-up", "size": 100}}
          ]},
         {"transform": [{"filter": "datum.s === 'Xan'"}],
          "encoding": {"y": {"field": "v", "type": "quantitative", "scale": {"domain": [0, 32.38], "nice": false, "zero": false}, "axis": null}},
          "layer": [
            {"transform": [{"filter": "datum.r !== 'p'"}], "mark": "line", "encoding": {}},
            {"transform": [{"filter": "datum.r !== 'l'"}], "mark": {"type": "point", "shape": "circle", "size": 90}}
          ]},
         {"transform": [{"filter": "datum.s === 'Visc' || datum.s === 'ann' || datum.s === 'lead'"}],
          "encoding": {"y": {"field": "v", "type": "quantitative", "scale": {"domain": [0, 16.19], "nice": false, "zero": false},
            "axis": {"orient": "left", "values": [0, 2, 4], "labelFontSize": 13, "title": ["—☐—", "Viscosity, cp x 10⁻³"], "titleFontSize": 13, "titleLineHeight": 18, "titleAngle": 270, "titleX": -47, "titleY": 335}}},
          "layer": [
            {"transform": [{"filter": "datum.s === 'Visc' && datum.r !== 'p'"}], "mark": "line", "encoding": {}},
            {"transform": [{"filter": "datum.s === 'Visc' && datum.r !== 'l'"}], "mark": {"type": "point", "shape": "square", "size": 81}},
            {"transform": [{"filter": "datum.s === 'ann'"}], "mark": {"type": "text", "fontSize": 11}, "encoding": {"text": {"field": "t"}}},
            {"transform": [{"filter": "datum.s === 'lead'"}], "mark": "rule", "encoding": {"x2": {"field": "x2"}, "y2": {"field": "v2"}}}
          ]}
       ],
       "resolve": {"scale": {"y": "independent"}}},
      {"width": 270, "height": 395,
       "view": {"stroke": "black", "strokeWidth": 1.5},
       "data": {"name": "f3"},
       "transform": [{"filter": "datum.p === 'Glu'"}],
       "encoding": {"x": {"field": "x", "type": "quantitative", "scale": {"domain": [0.36, 54.8], "nice": false, "zero": false},
         "axis": {"values": [10, 30, 50], "labelFontSize": 13.5, "title": "Glucose  (g/l)", "titleFontSize": 15, "titleX": 178, "titleY": 32}}},
       "layer": [
         {"transform": [{"filter": "datum.s === 'pH'"}],
          "encoding": {"y": {"field": "v", "type": "quantitative", "scale": {"domain": [-7.88, 7.92], "nice": false, "zero": false}, "axis": null}},
          "layer": [
            {"transform": [{"filter": "datum.r !== 'p'"}], "mark": "line", "encoding": {}},
            {"transform": [{"filter": "datum.r !== 'l'"}], "mark": {"type": "point", "shape": "triangle-down", "size": 100}}
          ]},
         {"transform": [{"filter": "datum.s === 'DCW'"}],
          "encoding": {"y": {"field": "v", "type": "quantitative", "scale": {"domain": [-8.54, 6.65], "nice": false, "zero": false},
            "axis": {"orient": "right", "values": [0, 1, 2, 3], "labelFontSize": 13, "title": ["DCW, g/kg", "—△—"], "titleFontSize": 13, "titleLineHeight": 18, "titleAngle": 270, "titleX": 36, "titleY": 145}}},
          "layer": [
            {"transform": [{"filter": "datum.r !== 'p'"}], "mark": "line", "encoding": {}},
            {"transform": [{"filter": "datum.r !== 'l'"}], "mark": {"type": "point", "shape": "triangle-up", "size": 100}}
          ]},
         {"transform": [{"filter": "datum.s === 'Xan'"}],
          "encoding": {"y": {"field": "v", "type": "quantitative", "scale": {"domain": [0, 32.38], "nice": false, "zero": false},
            "axis": {"orient": "right", "values": [2, 6, 10, 14], "labelFontSize": 13, "title": ["Xanthan, g/kg", "—◯—"], "titleFontSize": 13, "titleLineHeight": 18, "titleAngle": 270, "titleX": 38, "titleY": 320}}},
          "layer": [
            {"transform": [{"filter": "datum.r !== 'p'"}], "mark": "line", "encoding": {}},
            {"transform": [{"filter": "datum.r !== 'l'"}], "mark": {"type": "point", "shape": "circle", "size": 90}}
          ]},
         {"transform": [{"filter": "datum.s === 'Visc' || datum.s === 'ann' || datum.s === 'lead'"}],
          "encoding": {"y": {"field": "v", "type": "quantitative", "scale": {"domain": [0, 16.19], "nice": false, "zero": false}, "axis": null}},
          "layer": [
            {"transform": [{"filter": "datum.s === 'Visc' && datum.r !== 'p'"}], "mark": "line", "encoding": {}},
            {"transform": [{"filter": "datum.s === 'Visc' && datum.r !== 'l'"}], "mark": {"type": "point", "shape": "square", "size": 81}},
            {"transform": [{"filter": "datum.s === 'ann'"}], "mark": {"type": "text", "fontSize": 11}, "encoding": {"text": {"field": "t"}}},
            {"transform": [{"filter": "datum.s === 'lead'"}], "mark": "rule", "encoding": {"x2": {"field": "x2"}, "y2": {"field": "v2"}}}
          ]}
       ],
       "resolve": {"scale": {"y": "independent"}}}
    ], "spacing": 0, "bounds": "flush"},
    {"width": 1, "height": 2.5, "data": {"values": []}, "mark": "point"},
    {"hconcat": [
      {"width": 86, "height": 30, "data": {"values": []}, "mark": "point"},
      {"width": 647, "height": 30, "data": {"name": "cap3"},
       "encoding": {"x": {"field": "pos", "type": "quantitative", "scale": {"domain": [0, 1]}, "axis": null},
                    "y": {"field": "line", "type": "ordinal", "scale": {"type": "point", "padding": 0.5}, "axis": null},
                    "text": {"field": "t"}},
       "layer": [
         {"transform": [{"filter": "datum.k === 'fig'"}], "mark": {"type": "text", "align": "left", "font": "Liberation Serif", "fontSize": 11.5, "fontWeight": "normal"}},
         {"transform": [{"filter": "datum.k === 'b1'"}], "mark": {"type": "text", "align": "left", "dx": 44, "font": "Liberation Serif", "fontStyle": "italic", "fontSize": 13, "fontWeight": "normal"}},
         {"transform": [{"filter": "datum.k === 'b2'"}], "mark": {"type": "text", "align": "left", "font": "Liberation Serif", "fontStyle": "italic", "fontSize": 13, "fontWeight": "normal"}}
       ]}
    ], "spacing": 0, "bounds": "flush"}
  ]
}
